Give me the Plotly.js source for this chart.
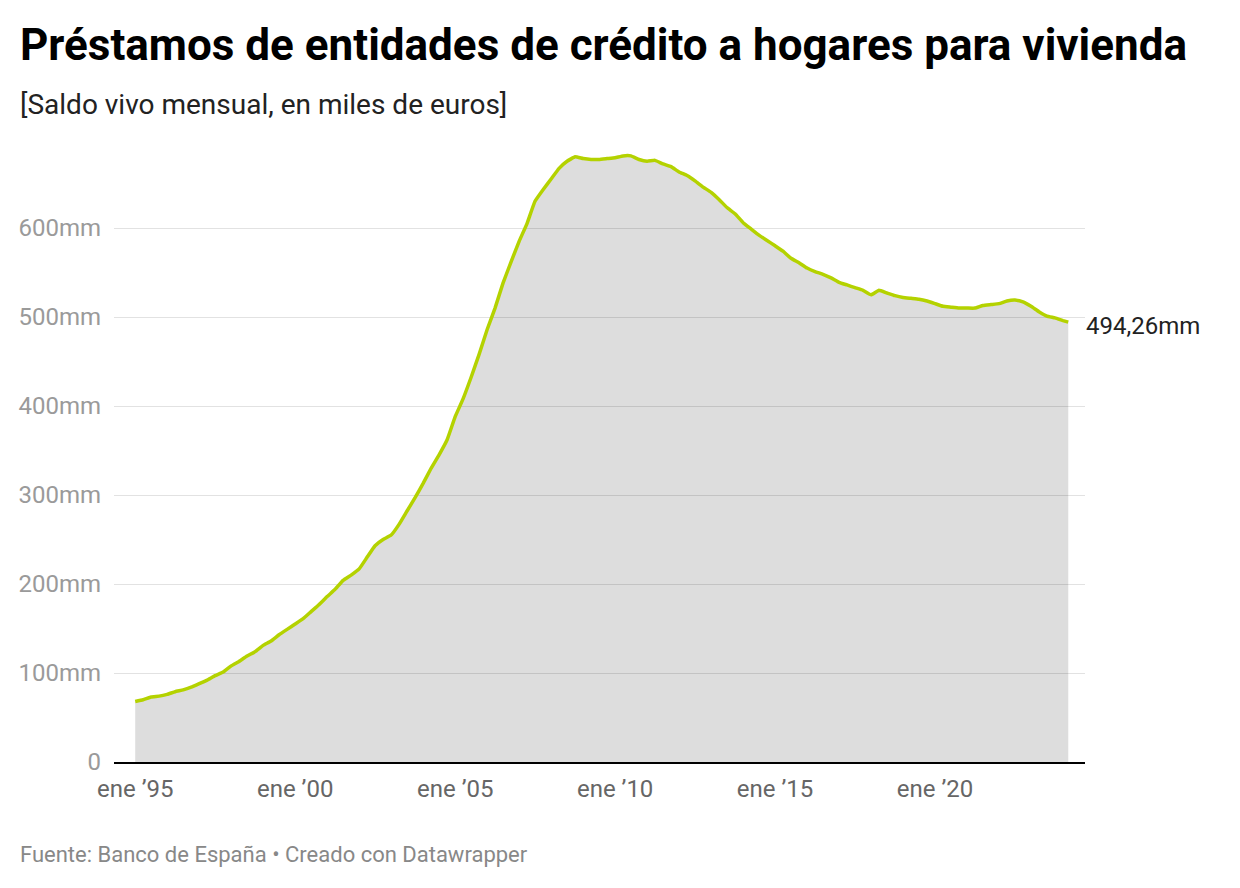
<!DOCTYPE html>
<html>
<head>
<meta charset="utf-8">
<script src="https://cdn.plot.ly/plotly-3.0.1.min.js"></script>
<style>
html,body{margin:0;padding:0;background:#fff;}
#chart{width:1240px;height:888px;}
</style>
</head>
<body>
<div id="chart"></div>
<script>
// Quarterly readings (miles de millones de euros), Jan 1995 .. Mar 2024
const dates = [
"1995-01-01","1995-04-01","1995-07-01","1995-10-01",
"1996-01-01","1996-04-01","1996-07-01","1996-10-01",
"1997-01-01","1997-04-01","1997-07-01","1997-10-01",
"1998-01-01","1998-04-01","1998-07-01","1998-10-01",
"1999-01-01","1999-04-01","1999-07-01","1999-10-01",
"2000-01-01","2000-04-01","2000-07-01","2000-10-01",
"2001-01-01","2001-04-01","2001-07-01","2001-10-01",
"2002-01-01","2002-04-01","2002-07-01","2002-10-01",
"2003-01-01","2003-04-01","2003-07-01","2003-10-01",
"2004-01-01","2004-04-01","2004-07-01","2004-10-01",
"2005-01-01","2005-04-01","2005-07-01","2005-10-01",
"2006-01-01","2006-04-01","2006-07-01","2006-10-01",
"2007-01-01","2007-04-01","2007-07-01","2007-10-01",
"2008-01-01","2008-04-01","2008-07-01","2008-10-01",
"2009-01-01","2009-04-01","2009-07-01","2009-10-01",
"2010-01-01","2010-04-01","2010-07-01","2010-10-01",
"2011-01-01","2011-04-01","2011-07-01","2011-10-01",
"2012-01-01","2012-04-01","2012-07-01","2012-10-01",
"2013-01-01","2013-04-01","2013-07-01","2013-10-01",
"2014-01-01","2014-04-01","2014-07-01","2014-10-01",
"2015-01-01","2015-04-01","2015-07-01","2015-10-01",
"2016-01-01","2016-04-01","2016-07-01","2016-10-01",
"2017-01-01","2017-04-01","2017-07-01","2017-10-01",
"2018-01-01","2018-04-01","2018-07-01","2018-10-01",
"2019-01-01","2019-04-01","2019-07-01","2019-10-01",
"2020-01-01","2020-04-01","2020-07-01","2020-10-01",
"2021-01-01","2021-04-01","2021-07-01","2021-10-01",
"2022-01-01","2022-04-01","2022-07-01","2022-10-01",
"2023-01-01","2023-04-01","2023-07-01","2023-10-01",
"2024-01-01","2024-03-01"
];
const values = [
68, 70, 73, 74,
76, 79, 81, 84,
88, 92, 97, 101,
108, 113, 119, 124,
131, 136, 143, 149,
155, 161, 169, 177,
186, 194, 204, 210,
217, 230, 243, 250,
255, 267, 282, 297,
313, 330, 345, 362,
388, 408, 432, 458,
486, 510, 538, 562,
585, 605, 630, 643,
655, 667, 675, 680,
678, 677, 677, 678,
679, 681, 681, 677,
675, 676, 672, 669,
663, 659, 653, 646,
640, 632, 623, 616,
606, 599, 592, 586,
580, 574, 566, 561,
555, 551, 548, 544,
539, 536, 533, 530,
525, 530, 527, 524,
522, 521, 520, 518,
515, 512, 511, 510,
510, 510, 513, 514,
515, 518, 519, 517,
512, 506, 501, 499,
496, 494.26
];
const yTicks = [0, 100, 200, 300, 400, 500, 600];
const yTickLabels = ["0", "100mm", "200mm", "300mm", "400mm", "500mm", "600mm"];
const xTicks = ["1995-01-01", "2000-01-01", "2005-01-01", "2010-01-01", "2015-01-01", "2020-01-01"];
const xTickLabels = ["ene ’95", "ene ’00", "ene ’05", "ene ’10", "ene ’15", "ene ’20"];
const lastLabel = "494,26mm";

const L = 114, R = 155, T = 139, B = 126, W = 1240, H = 888;
const pw = W - L - R, ph = H - T - B;
const px = x => (x - L) / pw;
const py = y => (H - B - y) / ph;

const trace = {
  x: dates, y: values, type: "scatter", mode: "lines",
  line: {color: "#b4d200", width: 3.5, shape: "spline", smoothing: 0.3},
  fill: "tozeroy", fillcolor: "rgba(0,0,0,0.135)",
  hoverinfo: "skip"
};

const layout = {
  width: W, height: H,
  margin: {l: L, r: R, t: T, b: B, pad: 0},
  paper_bgcolor: "#fff", plot_bgcolor: "#fff",
  font: {family: "Roboto, sans-serif", color: "#333"},
  showlegend: false,
  xaxis: {
    type: "date", range: ["1994-05-04", "2024-09-08"],
    tickvals: xTicks, ticktext: xTickLabels,
    tickfont: {size: 24, color: "#666"},
    showgrid: false, zeroline: false,
    showline: true, linecolor: "#000", linewidth: 2,
    ticks: "", ticklabelstandoff: 4, fixedrange: true
  },
  yaxis: {
    range: [0, 700],
    tickvals: yTicks, ticktext: yTickLabels,
    tickfont: {size: 24, color: "#9a9a9a"},
    showgrid: true, gridcolor: "#e2e2e2", gridwidth: 1,
    zeroline: false, showline: false, ticks: "",
    ticklabelstandoff: 12, fixedrange: true
  },
  annotations: [
    {text: "<b>Préstamos de entidades de crédito a hogares para vivienda</b>",
     xref: "paper", yref: "paper", x: px(18), y: py(45), xanchor: "left", yanchor: "middle",
     showarrow: false, font: {size: 44, color: "#000", family: "Roboto, sans-serif"}},
    {text: "[Saldo vivo mensual, en miles de euros]",
     xref: "paper", yref: "paper", x: px(18), y: py(105), xanchor: "left", yanchor: "middle",
     showarrow: false, font: {size: 28, color: "#222", family: "Roboto, sans-serif"}},
    {text: "Fuente: Banco de España • Creado con Datawrapper",
     xref: "paper", yref: "paper", x: px(18), y: py(855), xanchor: "left", yanchor: "middle",
     showarrow: false, font: {size: 22, color: "#888", family: "Roboto, sans-serif"}},
    {text: lastLabel,
     xref: "x", yref: "y", x: dates[dates.length - 1], y: values[values.length - 1],
     xanchor: "left", yanchor: "middle", xshift: 16, yshift: -4,
     showarrow: false, font: {size: 24, color: "#222", family: "Roboto, sans-serif"}}
  ]
};

Plotly.newPlot("chart", [trace], layout, {displayModeBar: false, staticPlot: true});
</script>
</body>
</html>
